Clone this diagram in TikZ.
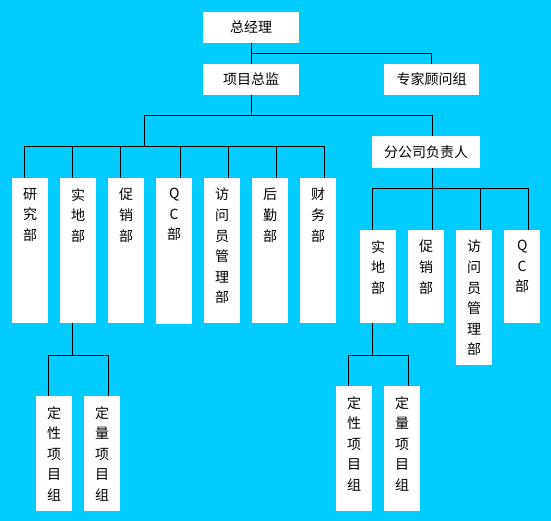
\documentclass[tikz,border=0pt]{standalone}
\usepackage{fontspec}
\newfontfamily\cjk{Noto Sans CJK SC}
\usepackage{tikz}
\usetikzlibrary{calc}
\definecolor{bgcyan}{RGB}{0,204,255}
% column text, one character per line, top aligned
\newcommand{\colText}[2]{\parbox[t][#1][t]{36pt}{\centering\baselineskip=20.6pt\vspace*{10pt}#2\par}}

\begin{document}
\begin{tikzpicture}[x=1pt, y=-1pt,
  box/.style={fill=white, inner sep=0pt, font=\cjk\fontsize{14}{17}\selectfont},
  wide/.style={box, minimum width=#1, minimum height=31pt},
  col/.style={box, anchor=north west},
  link/.style={line width=1pt, black}]
% Background
\fill[bgcyan] (0,0) rectangle (551,521);
\useasboundingbox (0,0) rectangle (551,521);

% Top level
\node[wide=96pt] (gm) at (251,27.5) {总经理};
\node[wide=96pt] (pm) at (251,79.5) {项目总监};
\node[wide=95pt] (exp) at (431.5,79.5) {专家顾问组};
\node[wide=108pt, minimum height=32pt] (br) at (426,152) {分公司负责人};

% Departments under the project director
\node[col] (yjb) at (12,178) {\colText{145pt}{研\\究\\部}};
\node[col] (sdb) at (60,178) {\colText{145pt}{实\\地\\部}};
\node[col] (cxb) at (108,178) {\colText{145pt}{促\\销\\部}};
\node[col] (qcb) at (156,178) {\colText{146pt}{Q\\C\\部}};
\node[col] (fwb) at (204,178) {\colText{145pt}{访\\问\\员\\管\\理\\部}};
\node[col] (hqb) at (252,178) {\colText{145pt}{后\\勤\\部}};
\node[col] (cwb) at (300,178) {\colText{145pt}{财\\务\\部}};

% Departments under the branch manager
\node[col] (bsd) at (360,230) {\colText{93pt}{实\\地\\部}};
\node[col] (bcx) at (408,230) {\colText{93pt}{促\\销\\部}};
\node[col] (bfw) at (456,230) {\colText{135pt}{访\\问\\员\\管\\理\\部}};
\node[col] (bqc) at (504,230) {\colText{93pt}{Q\\C\\部}};

% Project groups
\node[col] (dx) at (36,396) {\colText{115pt}{定\\性\\项\\目\\组}};
\node[col] (dl) at (84,396) {\colText{115pt}{定\\量\\项\\目\\组}};
\node[col] (bdx) at (336,386) {\colText{125pt}{定\\性\\项\\目\\组}};
\node[col] (bdl) at (384,386) {\colText{125pt}{定\\量\\项\\目\\组}};

% Connectors, top
\draw[link] (gm) -- (pm);
\draw[link] (gm.south) ++(0,10) -| (exp.north);
\coordinate (bus1) at (144,116);
\draw[link] (pm.south) -- (pm.south |- bus1);
\draw[link] (bus1) -| ([xshift=6pt]br.north);
\draw[link] (bus1) -- ++(0,31) coordinate (bus2);
\foreach \n/\o in {yjb/12,sdb/12,cxb/12,qcb/24,fwb/24,hqb/24,cwb/24}
  \draw[link] (bus2) -| ([xshift=\o pt]\n.north west);

% Connectors, branch
\draw[link] ([xshift=6pt]br.south) -- ++(0,20) coordinate (bus3);
\foreach \n/\o in {bsd/12,bcx/24,bfw/24,bqc/24}
  \draw[link] (bus3) -| ([xshift=\o pt]\n.north west);

% Connectors, project groups
\draw[link] ([xshift=12pt]sdb.south west) -- ++(0,32) coordinate (bus4);
\draw[link] (bus4) -| ([xshift=12pt]dx.north west);
\draw[link] (bus4) -| ([xshift=24pt]dl.north west);
\draw[link] ([xshift=12pt]bsd.south west) -- ++(0,32) coordinate (bus5);
\draw[link] (bus5) -| ([xshift=12pt]bdx.north west);
\draw[link] (bus5) -| ([xshift=24pt]bdl.north west);
\end{tikzpicture}
\end{document}
